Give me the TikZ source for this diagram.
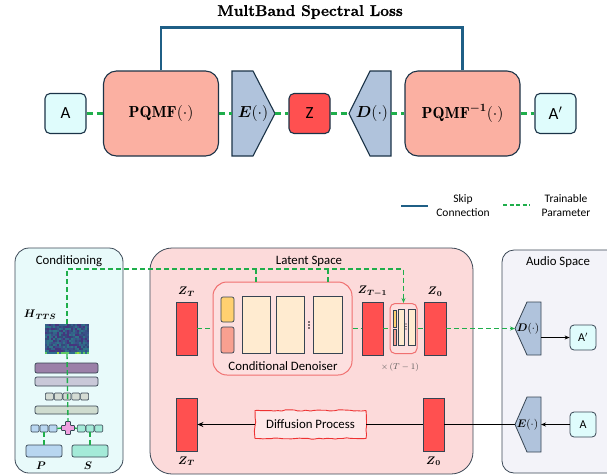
\RequirePackage{fix-cm}
\documentclass[tikz,border=0pt]{standalone}
\usepackage{amsmath, amssymb}
\usepackage{fontspec}
\newfontfamily\calib{Carlito}
\newfontfamily\titlefont{Latin Modern Roman}[FakeBold=1.2]
\usetikzlibrary{shapes, arrows.meta, positioning, decorations.pathmorphing}

\definecolor{navy}{HTML}{1B3347}
\definecolor{slate}{HTML}{364452}
\definecolor{panelgray}{HTML}{3B4856}
\definecolor{skipblue}{HTML}{1F5F86}
\definecolor{trainc}{HTML}{1FAE4B}
\definecolor{salmon}{HTML}{FBB0A2}
\definecolor{codec}{HTML}{B0C3DC}
\definecolor{latred}{HTML}{FF5050}
\definecolor{iocyan}{HTML}{DFFCFC}
\definecolor{condbg}{HTML}{E8FAFA}
\definecolor{latbg}{HTML}{FCDADA}
\definecolor{audbg}{HTML}{F3F3F9}
\definecolor{denborder}{HTML}{F07070}
\definecolor{denbg}{HTML}{FDDFDF}
\definecolor{cream}{HTML}{FFEBD0}
\definecolor{yel}{HTML}{FFD070}
\definecolor{pinkish}{HTML}{F8A090}
\definecolor{barpurple}{HTML}{9B80A8}
\definecolor{bargray}{HTML}{C9C8D8}
\definecolor{barsage}{HTML}{CFDCCF}
\definecolor{sagelight}{HTML}{D4DCD4}
\definecolor{pblue}{HTML}{B8D6F0}
\definecolor{smint}{HTML}{A4EAD8}
\definecolor{plusc}{HTML}{F0A0E0}
\definecolor{diffred}{HTML}{EE3333}
\definecolor{diffbg}{HTML}{FDE8E8}
\definecolor{spec1}{HTML}{3A5088}
\definecolor{spec2}{HTML}{34628A}
\definecolor{spec3}{HTML}{46357E}
\definecolor{spec4}{HTML}{2F7488}
\definecolor{spec5}{HTML}{344A7C}
\definecolor{specb1}{HTML}{9FDA3A}
\definecolor{specb2}{HTML}{5EC962}
\definecolor{specb3}{HTML}{2E6E8E}

\begin{document}
\begin{tikzpicture}[x=1pt, y=-1pt,
    every node/.style={inner sep=0pt},
    iobox/.style={rectangle, rounded corners=5pt, draw=navy, line width=1.1pt, fill=iocyan, minimum width=41pt, minimum height=40pt, font=\calib\fontsize{17}{17}\selectfont},
    smallio/.style={rectangle, rounded corners=4pt, draw=slate, line width=0.8pt, fill=iocyan, minimum width=26pt, minimum height=25pt, font=\calib\fontsize{12}{12}\selectfont},
    pqmfbox/.style={rectangle, rounded corners=13pt, draw=navy, line width=1.1pt, fill=salmon, minimum width=115pt, minimum height=85pt, font=\fontsize{16}{18}\selectfont},
    coder/.style={draw=navy, line width=1.1pt, fill=codec},
    skipline/.style={skipblue, line width=2.2pt},
    trainline/.style={trainc, line width=2.6pt, dash pattern=on 6pt off 4pt},
    condline/.style={trainc, line width=1.4pt, dash pattern=on 5pt off 3pt},
    flow/.style={black, line width=1.2pt},
    panel/.style={rectangle, draw=panelgray, line width=0.8pt},
    latent/.style={rectangle, draw=slate, line width=0.8pt, fill=latred, minimum width=21pt, minimum height=53pt},
    smallbox/.style={rectangle, draw=slate, line width=0.7pt, rounded corners=2pt},
    sq/.style={rectangle, draw=slate, line width=0.6pt, rounded corners=1pt, minimum width=8pt, minimum height=7pt},
    block/.style={rectangle, draw=slate, line width=0.8pt, fill=cream},
    paneltitle/.style={font=\calib\fontsize{12.8}{14}\selectfont},
    mlabel/.style={font=\fontsize{11}{12}\selectfont},
  ]
  \clip (0,0) rectangle (607,475);

  % top: autoencoder with PQMF
  \node (title) at (310,12) {\titlefont\fontsize{15.5}{18}\selectfont\bfseries MultBand Spectral Loss};
  \node (a) [iobox] at (65.5,113.5) {A};
  \node (pqmf) [pqmfbox] at (161,113.5) {$\mathbf{PQMF}(\cdot)$};
  \draw[coder] (232,71) -- (253,71) -- (275,113.5) -- (253,156) -- (232,156) -- cycle;
  \coordinate (encin) at (232,113.5);
  \coordinate (encout) at (275,113.5);
  \node (enclbl) [font=\fontsize{16}{18}\selectfont] at (253,113.5) {$\boldsymbol{E}(\cdot)$};
  \node (z) [iobox, fill=latred] at (309.5,113.5) {Z};
  \draw[coder] (391,71) -- (370,71) -- (349,113.5) -- (370,156) -- (391,156) -- cycle;
  \coordinate (decin) at (349,113.5);
  \coordinate (decout) at (391,113.5);
  \node (declbl) [font=\fontsize{16}{18}\selectfont] at (372,113.5) {$\boldsymbol{D}(\cdot)$};
  \node (pqmfinv) [pqmfbox] at (462.5,113.5) {$\mathbf{PQMF}^{\boldsymbol{-1}}(\cdot)$};
  \node (aprime) [iobox] at (555.5,113.5) {A$'$};

  \draw[skipline] (pqmf.north) -- ++(0,-43) -| (pqmfinv.north);
  \draw[trainline] (a) -- (pqmf);
  \draw[trainline] (pqmf) -- (encin);
  \draw[trainline] (encout) -- (z);
  \draw[trainline] (z) -- (decin);
  \draw[trainline] (decout) -- (pqmfinv);
  \draw[trainline] (pqmfinv) -- (aprime);

  % legend
  \coordinate (skipl) at (401,206);
  \coordinate (skipr) at (428,206);
  \draw[skipline, line width=1.6pt] (skipl) -- (skipr);
  \node (skiptxt) [align=center, font=\calib\fontsize{11.5}{14}\selectfont] at (463,206) {Skip\\Connection};
  \coordinate (trainl) at (503,205);
  \coordinate (trainr) at (530,205);
  \draw[trainc, line width=1.6pt, dash pattern=on 4pt off 2.5pt] (trainl) -- (trainr);
  \node (traintxt) [align=center, font=\calib\fontsize{11.5}{14}\selectfont] at (566,206) {Trainable\\Parameter};

  % panels
  \node (condpanel) [panel, rounded corners=14pt, fill=condbg, minimum width=108pt, minimum height=225pt] at (69,360.5) {};
  \node (condtitle) [paneltitle] at (69,261) {Conditioning};
  \node (latpanel) [panel, rounded corners=22pt, fill=latbg, minimum width=323pt, minimum height=226pt] at (311.5,361) {};
  \node (lattitle) [paneltitle] at (309,261) {Latent Space};
  \node (audpanel) [panel, rounded corners=12pt, fill=audbg, minimum width=122pt, minimum height=223pt] at (563,361.5) {};
  \node (audtitle) [paneltitle] at (558,262) {Audio Space};

  % conditioning
  \node (spec) [minimum width=44pt, minimum height=30pt] at (67,339) {};
  \pgfmathsetseed{11}
  \foreach \i in {0,...,21}{
    \foreach \j in {0,...,13}{
      \pgfmathrandominteger{\k}{1}{5}
      \fill[spec\k] (45+2*\i,324+2*\j) rectangle ++(2,2);
    }
  }
  \foreach \i in {0,...,21}{
    \pgfmathrandominteger{\k}{1}{3}
    \fill[specb\k] (45+2*\i,352) rectangle ++(2,2);
  }
  \node (htts) [mlabel] at (40,315) {$\boldsymbol{H}_{\boldsymbol{TTS}}$};
  \node (bar1) [smallbox, fill=barpurple, minimum width=63pt, minimum height=10pt] at (66.5,368) {};
  \node (bar2) [smallbox, fill=bargray, minimum width=63pt, minimum height=9pt] at (66.5,381.5) {};
  \foreach \x [count=\n] in {49.4,58.2,67,75.8,84.6}
    \node (hsq\n) [sq, fill=sagelight] at (\x,396.5) {};
  \node (bar3) [smallbox, fill=barsage, minimum width=63pt, minimum height=8pt] at (66.5,410) {};
  \node (plus) [minimum size=13pt] at (68,428) {};
  \filldraw[fill=plusc, draw=slate, line width=0.6pt, rounded corners=0.5pt] (65.5,421.5) -- ++(5,0) -- ++(0,4) -- ++(4,0) -- ++(0,5) -- ++(-4,0) -- ++(0,4) -- ++(-5,0) -- ++(0,-4) -- ++(-4,0) -- ++(0,-5) -- ++(4,0) -- cycle;
  \foreach \x [count=\n] in {35,44,53}
    \node (psq\n) [sq, fill=pblue] at (\x,428.5) {};
  \foreach \x [count=\n] in {81.3,90,98.7}
    \node (ssq\n) [sq, fill=smint] at (\x,428.5) {};
  \node (pbox) [smallbox, fill=pblue, minimum width=36pt, minimum height=12pt] at (44,451) {};
  \node (sbox) [smallbox, fill=smint, minimum width=36pt, minimum height=12pt] at (90,451) {};
  \node (plbl) [mlabel] at (41,466) {$\boldsymbol{P}$};
  \node (slbl) [mlabel] at (88,466) {$\boldsymbol{S}$};

  \draw[condline] (spec.south) -- (plus.north);
  \draw[condline] (psq3.east) -- (plus.west);
  \draw[condline] (plus.east) -- (ssq1.west);
  \draw[condline] (psq2.south) -- (pbox.north);
  \draw[condline] (ssq2.south) -- (sbox.north);

  % latent space
  \node (zt) [latent] at (186.5,328.5) {};
  \node (ztlbl) [mlabel, above=5pt of zt] {$\boldsymbol{Z}_{\boldsymbol{T}}$};
  \node (den) [rectangle, rounded corners=14pt, draw=denborder, line width=1pt, fill=denbg, minimum width=139pt, minimum height=93pt] at (282.5,328.5) {};
  \node (denlbl) [paneltitle] at (283,366) {Conditional Denoiser};
  \node (emb1) [smallbox, fill=yel, minimum width=13pt, minimum height=25pt] at (227.5,309.5) {};
  \node (emb2) [smallbox, fill=pinkish, minimum width=13pt, minimum height=26pt] at (227.5,340) {};
  \node (blk1) [block, minimum width=28pt, minimum height=57pt] at (256,324.5) {};
  \node (blk2) [block, minimum width=28pt, minimum height=57pt] at (290,324.5) {};
  \node (blk3) [block, minimum width=29pt, minimum height=57pt] at (327.5,324.5) {};
  \foreach \d in {322,325,328}
    \fill (309,\d) circle (0.9);
  \node (ztm) [latent] at (372.5,328.5) {};
  \node (ztmlbl) [mlabel, above=5pt of ztm] {$\boldsymbol{Z}_{\boldsymbol{T-1}}$};
  \node (mini) [rectangle, rounded corners=5pt, draw=denborder, line width=1pt, fill=denbg, minimum width=27pt, minimum height=50pt] at (403.5,328.5) {};
  \node (memb1) [rectangle, draw=slate, line width=0.5pt, fill=yel, minimum width=3pt, minimum height=17pt] at (394.5,318.5) {};
  \node (memb2) [rectangle, draw=slate, line width=0.5pt, fill=pinkish, minimum width=3pt, minimum height=16pt] at (394.5,337) {};
  \node (mblk1) [block, line width=0.6pt, minimum width=6pt, minimum height=36pt] at (401,327) {};
  \node (mblk2) [block, line width=0.6pt, minimum width=7pt, minimum height=36pt] at (411.5,327) {};
  \foreach \d in {324,326.5,329}
    \fill (406,\d) circle (0.6);
  \node (times) [text=black!65] at (400,367) {\fontsize{8.5}{10}\selectfont$\times\,(T-1)$};
  \node (z0) [latent, minimum width=22pt] at (435,328.5) {};
  \node (z0lbl) [mlabel, above=5pt of z0] {$\boldsymbol{Z}_{\boldsymbol{0}}$};

  \node (ztb) [latent] at (186.5,424.5) {};
  \node (ztblbl) [mlabel, below=5pt of ztb] {$\boldsymbol{Z}_{\boldsymbol{T}}$};
  \node (z0b) [latent] at (433.5,424.5) {};
  \node (z0blbl) [mlabel, below=5pt of z0b] {$\boldsymbol{Z}_{\boldsymbol{0}}$};
  \node (diff) [draw=diffred, fill=diffbg, line width=0.9pt, decorate, decoration={random steps, segment length=4pt, amplitude=0.7pt}, minimum width=111pt, minimum height=28pt, paneltitle] at (310.5,424.5) {Diffusion Process};

  % audio space
  \draw[coder, line width=0.8pt, draw=slate] (541,302) -- (527,302) -- (515,328.5) -- (527,355) -- (541,355) -- cycle;
  \coordinate (dec2in) at (515,328.5);
  \coordinate (dec2out) at (541,337.5);
  \node (dec2lbl) [mlabel] at (528,328.5) {$\boldsymbol{D}(\cdot)$};
  \node (aprime2) [smallio] at (583,337.5) {A$'$};
  \draw[coder, line width=0.8pt, draw=slate] (541,397) -- (527,397) -- (515,424.5) -- (527,452) -- (541,452) -- cycle;
  \coordinate (enc2tip) at (515,424.5);
  \coordinate (enc2in) at (541,424.5);
  \node (enc2lbl) [mlabel] at (527.5,424.5) {$\boldsymbol{E}(\cdot)$};
  \node (abox2) [smallio] at (583,424.5) {A};

  % connectors
  \coordinate (condrail) at (67,269);
  \coordinate (tapa) at (256,269);
  \coordinate (tapb) at (328,269);
  \draw[condline, -{Stealth[length=5pt, width=4pt]}] (spec.north) -- (condrail) -| (mini.north);
  \draw[condline] (tapa) -- (tapa |- den.north);
  \draw[condline] (tapb) -- (tapb |- den.north);
  \draw[condline] (zt) -- (den);
  \draw[condline] (den) -- (ztm);
  \draw[condline] (ztm) -- (mini);
  \draw[condline] (mini) -- (z0);
  \draw[condline, -{Stealth[length=5pt, width=4pt]}] (z0) -- (dec2in);
  \draw[flow, -{Stealth[length=5pt, width=4pt]}] (dec2out) -- (aprime2);
  \draw[flow, -{Stealth[length=5pt, width=4pt]}] (abox2) -- (enc2in);
  \draw[flow] (enc2tip) -- (z0b);
  \draw[flow] (z0b) -- (diff);
  \draw[flow, -{Stealth[length=6pt, width=5pt]}] (diff) -- (ztb);
\end{tikzpicture}
\end{document}
